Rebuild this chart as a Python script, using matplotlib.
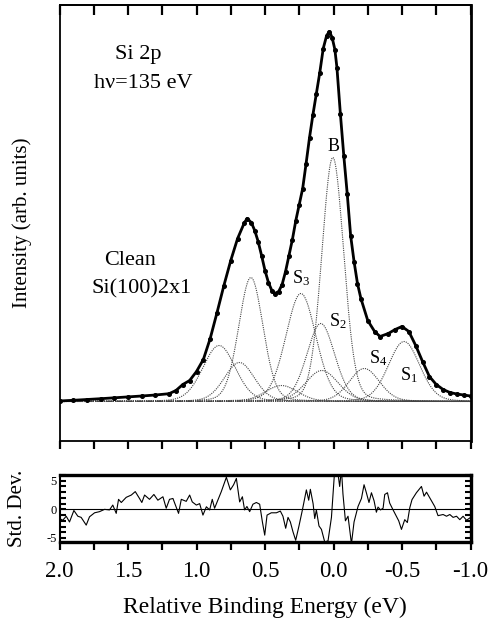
import numpy as np
import matplotlib
matplotlib.use("Agg")
import matplotlib.pyplot as plt
from matplotlib.ticker import MultipleLocator

plt.rcParams['font.family'] = ['Liberation Serif', 'DejaVu Serif']
plt.rcParams['mathtext.fontset'] = 'custom'
plt.rcParams['mathtext.rm'] = 'Liberation Serif'
plt.rcParams['mathtext.it'] = 'Liberation Serif'

# ---- measured spectrum (relative binding energy, intensity arb. units)
energy = [2.00, 1.90, 1.80, 1.70, 1.60, 1.50, 1.40, 1.30, 1.20, 1.15, 1.10, 1.05,
          1.00, 0.95, 0.90, 0.85, 0.80, 0.75, 0.70, 0.65, 0.63, 0.60, 0.575, 0.55,
          0.525, 0.50, 0.475, 0.45, 0.43, 0.40, 0.375, 0.35, 0.325, 0.30, 0.275,
          0.25, 0.225, 0.20, 0.175, 0.15, 0.125, 0.10, 0.075, 0.05, 0.03, 0.01,
          -0.01, -0.025, -0.05, -0.075, -0.10, -0.125, -0.15, -0.175, -0.20, -0.25,
          -0.30, -0.34, -0.40, -0.45, -0.50, -0.55, -0.60, -0.65, -0.70, -0.75,
          -0.80, -0.85, -0.90, -0.95, -1.00]
intensity = [0.5, 1.2, 2.0, 2.8, 3.7, 4.6, 5.5, 6.5, 7.8, 11, 17, 21,
             30, 42, 63, 89, 116, 141, 163, 179, 183, 179, 171, 160,
             146, 131, 119, 111, 108, 110, 117, 130, 146, 162, 181,
             197, 213, 238, 264, 287, 308, 329, 353, 366, 370, 364,
             352, 334, 288, 246, 208, 166, 140, 118, 103, 81,
             70, 65, 68, 72, 75, 70, 56, 40, 25, 17,
             12, 9, 7.5, 6.5, 5.5]

# ---- fit components: centre (eV), height, FWHM (eV)
comp_names = ["B", "B'", "S1", "S1'", "S2", "S2'", "S3", "S3'", "S4", "S4'"]
comp_center = [0.005, 0.603, -0.515, 0.085, 0.093, 0.687, 0.238, 0.835, -0.225, 0.38]
comp_height = [244, 124, 60, 31, 78, 39, 108, 56, 33, 16]
comp_fwhm = [0.19, 0.21, 0.27, 0.28, 0.24, 0.26, 0.26, 0.28, 0.26, 0.28]
lorentz_frac = 0.15

# ---- residual (std. dev.)
res_energy = [2.000, 1.976, 1.951, 1.927, 1.895, 1.866, 1.842, 1.805, 1.781, 1.744,
              1.708, 1.671, 1.635, 1.611, 1.586, 1.569, 1.549, 1.513, 1.476, 1.447,
              1.416, 1.399, 1.379, 1.343, 1.311, 1.282, 1.245, 1.221, 1.197, 1.172,
              1.131, 1.111, 1.075, 1.050, 1.031, 1.001, 0.977, 0.953, 0.928, 0.904,
              0.885, 0.868, 0.851, 0.819, 0.782, 0.753, 0.729, 0.709, 0.685, 0.665,
              0.649, 0.632, 0.612, 0.588, 0.563, 0.539, 0.519, 0.502, 0.485, 0.454,
              0.417, 0.388, 0.369, 0.349, 0.332, 0.315, 0.296, 0.276, 0.252, 0.227,
              0.210, 0.198, 0.181, 0.169, 0.149, 0.137, 0.125, 0.106, 0.088, 0.064,
              0.040, 0.015, -0.009, -0.029, -0.045, -0.058, -0.069, -0.087, -0.106, -0.131,
              -0.150, -0.179, -0.204, -0.223, -0.240, -0.259, -0.277, -0.296, -0.313, -0.325,
              -0.343, -0.362, -0.374, -0.394, -0.410, -0.435, -0.459, -0.476, -0.496, -0.520,
              -0.539, -0.557, -0.573, -0.605, -0.642, -0.661, -0.679, -0.710, -0.739, -0.763,
              -0.800, -0.825, -0.849, -0.873, -0.898, -0.922, -0.946, -0.971, -0.995]
res_value = [-1.6, -1.9, -1.2, -2.2, -0.2, -1.2, -1.4, -2.75, -1.3, -0.6,
             -0.4, 0.0, -0.1, 0.75, -0.7, 1.75, 1.2, 2.1, 2.5, 3.1,
             1.9, 1.2, 2.5, 1.75, 2.6, 1.6, 2.2, 0.2, 1.75, 1.9,
             -0.7, 1.75, 1.4, 2.5, 1.3, 0.75, 1.0, -1.0, 0.45, -0.1,
             1.75, 0.2, 1.2, 3.1, 5.6, 3.4, 4.3, 5.4, 1.3, 2.2,
             -0.1, 0.5, -0.4, 0.9, 1.2, 0.9, -2.2, -4.5, -1.0, -0.6,
             -0.6, -0.3, -1.2, -3.3, -1.4, -2.2, -3.9, -5.4, -2.9, -0.1,
             1.9, 3.4, 1.6, 3.5, 1.0, -1.6, -0.1, -2.9, -3.5, -5.7,
             -5.5, -1.4, 7.0, 7.0, 4.0, 7.0, 2.7, -2.0, -1.2, -6.0,
             -2.2, 0.5, 1.9, 4.3, 2.9, 1.2, 2.9, 1.5, -0.5, 0.4,
             -0.1, 0.2, 2.6, 2.9, 1.1, -0.1, -1.2, -2.0, -3.5, -1.8,
             -2.3, 0.3, 1.7, 2.9, 4.0, 2.3, 3.0, 1.7, 0.5, -1.1,
             -0.9, -1.2, -0.9, -1.4, -1.2, -1.8, -1.2, -1.9, -1.5]

x_ticks = [2.0, 1.5, 1.0, 0.5, 0.0, -0.5, -1.0]
x_tick_labels = ["2.0", "1.5", "1.0", "0.5", "0.0", "-0.5", "-1.0"]
res_ticks = [-5, 0, 5]

W, H = 491, 618
fig = plt.figure(figsize=(W / 100, H / 100), dpi=100)

left = 59.5 / W
width = 411 / W
ax = fig.add_axes([left, 1 - 441 / H, width, 436 / H])
axr = fig.add_axes([left, 1 - 542 / H, width, 67 / H])

# components
xx = np.linspace(2.0, -1.0, 601)
for c, h, w in zip(comp_center, comp_height, comp_fwhm):
    g = np.exp(-4 * np.log(2) * ((xx - c) / w) ** 2)
    lz = 1.0 / (1.0 + (2 * (xx - c) / w) ** 2)
    y = h * ((1 - lorentz_frac) * g + lorentz_frac * lz)
    ax.plot(xx, y, linestyle=(0, (1, 1)), color='#444444', lw=0.8)

# data
ax.plot(energy, intensity, color='black', lw=2.0, marker='o', ms=2.6, zorder=5)

ax.set_xlim(2.0, -1.0)
ax.set_ylim(-39.5, 396.5)
ax.set_yticks([])
ax.xaxis.set_major_locator(MultipleLocator(0.25))
ax.tick_params(axis='x', which='both', direction='out', bottom=True, top=False,
               labelbottom=False, length=6, width=1.6)
axt = ax.secondary_xaxis('top')
axt.xaxis.set_major_locator(MultipleLocator(0.25))
axt.tick_params(axis='x', which='both', direction='in', length=7, width=1.6,
                labeltop=False)
axt.spines['top'].set_linewidth(1.3)
for s in ['left', 'top', 'bottom']:
    ax.spines[s].set_linewidth(1.3)
ax.spines['right'].set_linewidth(2.0)
ax.set_ylabel("Intensity (arb. units)", fontsize=15)
ax.yaxis.set_label_coords(-0.068, 0.5)

# annotations
ax.text(0.1915, 0.887, "Si 2p", transform=ax.transAxes, fontsize=16, ha='center', va='center')
ax.text(0.205, 0.82, "h\u03bd=135 eV", transform=ax.transAxes, fontsize=16, ha='center', va='center')
ax.text(0.172, 0.414, "Clean", transform=ax.transAxes, fontsize=16, ha='center', va='center')
ax.text(0.201, 0.348, "Si(100)2x1", transform=ax.transAxes, fontsize=16, ha='center', va='center')

lbl_fs = 13
ax.text(0.0, 255, "B", fontsize=lbl_fs, ha='center', va='center')
ax.text(0.237, 123, r"S$_3$", fontsize=lbl_fs, ha='center', va='center')
ax.text(0.03, 80, r"S$_2$", fontsize=lbl_fs, ha='left', va='center')
ax.text(-0.26, 43, r"S$_4$", fontsize=lbl_fs, ha='left', va='center')
ax.text(-0.485, 26, r"S$_1$", fontsize=lbl_fs, ha='left', va='center')

# residual panel
axr.plot(res_energy, res_value, color='black', lw=0.8)
axr.axhline(0, color='black', lw=0.8)
axr.set_xlim(2.0, -1.0)
axr.set_ylim(-5.7, 6.0)
axr.set_xticks(x_ticks)
axr.set_xticklabels(x_tick_labels)
axr.xaxis.set_minor_locator(MultipleLocator(0.25))
axr.set_yticks(res_ticks)
axr.set_yticklabels([str(v) for v in res_ticks])
axr.yaxis.set_minor_locator(MultipleLocator(1))
axr.tick_params(axis='x', which='both', direction='out', length=6, width=1.6,
                labelsize=16.5, pad=8, top=False)
axr.tick_params(axis='y', which='both', direction='in', length=4, width=1.5,
                left=True, right=True, labelsize=9, pad=2)
for s in ['top', 'bottom', 'right']:
    axr.spines[s].set_linewidth(2.4)
axr.spines['left'].set_linewidth(1.5)
axr.set_ylabel("Std. Dev.", fontsize=15)
axr.yaxis.set_label_coords(-0.08, 0.5)
axr.set_xlabel("Relative Binding Energy (eV)", fontsize=17, labelpad=10)

fig.savefig("out.png", dpi=100)
